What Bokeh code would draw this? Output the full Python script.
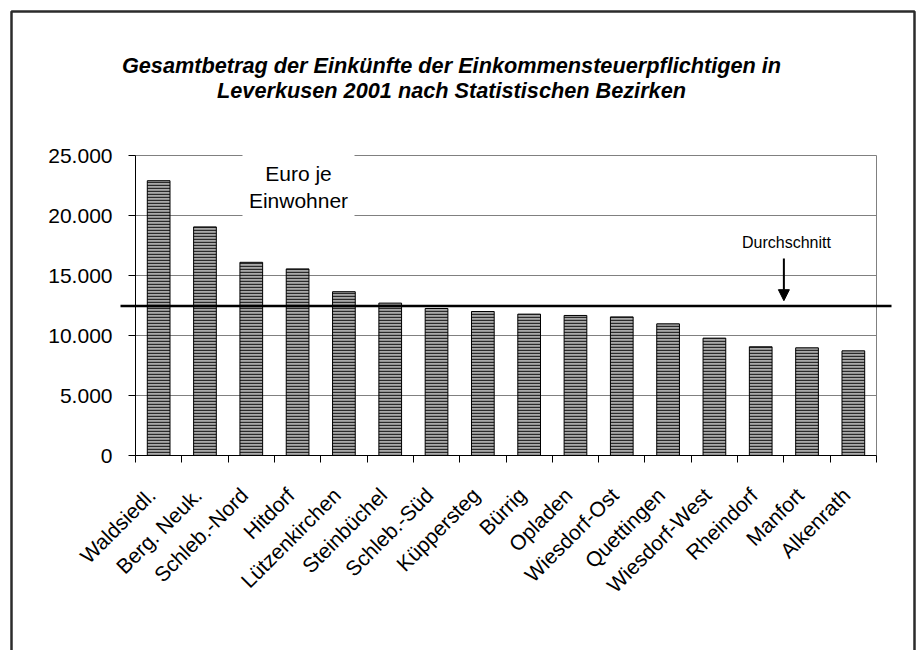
from bokeh.plotting import figure
from bokeh.models import Range1d, FixedTicker, Label, Arrow, NormalHead, ColumnDataSource
from bokeh.embed import file_html
from bokeh.resources import INLINE
import math

# ---- data ----
districts = ["Waldsiedl.", "Berg. Neuk.", "Schleb.-Nord", "Hitdorf", "Lützenkirchen",
             "Steinbüchel", "Schleb.-Süd", "Küppersteg", "Bürrig", "Opladen",
             "Wiesdorf-Ost", "Quettingen", "Wiesdorf-West", "Rheindorf", "Manfort",
             "Alkenrath"]
income = [22900, 19050, 16100, 15550, 13650, 12700, 12250, 12000, 11780, 11670,
          11550, 10970, 9780, 9060, 8970, 8720]
average = 12450
y_ticks = [0, 5000, 10000, 15000, 20000, 25000]
y_tick_labels = ["0", "5.000", "10.000", "15.000", "20.000", "25.000"]
title_lines = ["Gesamtbetrag der Einkünfte der Einkommensteuerpflichtigen in",
               "Leverkusen 2001 nach Statistischen Bezirken"]
unit_lines = ["Euro je", "Einwohner"]
avg_label = "Durchschnitt"

FONT = "Liberation Sans"
n = len(districts)
xpos = [i + 0.5 for i in range(n)]
label_pos = [i + 0.35 for i in range(n)]   # anchor of the rotated category labels

# canvas geometry: whole canvas is the frame, axes drawn at fixed locations
W, H = 920, 650
AX_X, AX_Y = 135.0, 455.0          # pixel position of data origin
PX_X = 741.0 / n                   # pixels per category
PX_Y = 300.0 / 25000               # pixels per unit
def X(px): return (px - AX_X) / PX_X
def Y(py): return (AX_Y - py) / PX_Y

p = figure(width=W, height=H, output_backend="svg", toolbar_location=None, title=None,
           x_range=Range1d(X(0), X(W)), y_range=Range1d(Y(H), Y(0)),
           min_border=0, min_border_left=0, min_border_right=0,
           min_border_top=0, min_border_bottom=0)
p.outline_line_color = None
p.background_fill_color = "white"
p.border_fill_color = "white"
p.xgrid.visible = False
p.ygrid.visible = False

# outer chart border (left, top, right)
p.line(x=[X(11), X(11), X(914), X(914)], y=[Y(700), Y(11), Y(11), Y(700)],
       line_color="#2b2b2b", line_width=2.5)

# gridlines and right edge of plot area
p.segment(x0=[0] * len(y_ticks), x1=[n] * len(y_ticks), y0=y_ticks, y1=y_ticks,
          line_color="#808080", line_width=1)
p.segment(x0=[n], x1=[n], y0=[0], y1=[y_ticks[-1]], line_color="#808080", line_width=1)

# bars
src = ColumnDataSource(dict(x=xpos, top=income))
p.vbar(x="x", top="top", width=0.49, bottom=0, source=src,
       fill_color="#a9a9a9", line_color="black", line_width=1,
       hatch_pattern="-", hatch_color="#2a2a2a", hatch_scale=3, hatch_weight=1.4)

# unit label with white box
p.quad(left=[X(242)], right=[X(354)], bottom=[Y(218)], top=[Y(150)],
       fill_color="white", line_color=None)
for txt, py in zip(unit_lines, [173, 200]):
    p.add_layout(Label(x=X(298), y=Y(py), text=txt, text_align="center",
                       text_baseline="middle", text_font=FONT, text_font_size="21px",
                       text_color="black"))

# average line
p.segment(x0=[X(120)], x1=[X(891)], y0=[average], y1=[average],
          line_color="black", line_width=2.5)
# Durchschnitt arrow + label
p.add_layout(Arrow(x_start=14, y_start=Y(258), x_end=14, y_end=average + 450,
                   end=NormalHead(size=11, fill_color="black", line_color="black"),
                   line_color="black", line_width=2))
p.add_layout(Label(x=X(786), y=Y(241.5), text=avg_label, text_align="center",
                   text_baseline="middle", text_font=FONT, text_font_size="16px",
                   text_color="black"))

# title
for txt, py in zip(title_lines, [65, 90]):
    p.add_layout(Label(x=X(451), y=Y(py), text=txt, text_align="center",
                       text_baseline="middle", text_font=FONT, text_font_size="21.7px",
                       text_font_style="bold italic", text_color="black"))

# y axis
ya = p.yaxis[0]
ya.fixed_location = 0
ya.bounds = (0, y_ticks[-1])
ya.ticker = FixedTicker(ticks=y_ticks)
ya.major_label_overrides = {t: l for t, l in zip(y_ticks, y_tick_labels)}
ya.major_label_text_font = FONT
ya.major_label_text_font_size = "21px"
ya.major_label_text_color = "black"
ya.major_tick_out = 7
ya.major_tick_in = 0
ya.major_tick_line_color = "black"
ya.axis_line_color = "black"
ya.minor_tick_line_color = None
ya.major_label_standoff = 16

# x axis
xa = p.xaxis[0]
xa.fixed_location = 0
xa.bounds = (0, n)
xa.ticker = FixedTicker(ticks=label_pos, minor_ticks=list(range(n + 1)))
xa.major_label_overrides = {x: d for x, d in zip(label_pos, districts)}
xa.major_label_orientation = math.pi / 4
xa.major_label_text_font = FONT
xa.major_label_text_font_size = "21px"
xa.major_label_text_color = "black"
xa.major_tick_line_color = None
xa.minor_tick_line_color = "black"
xa.minor_tick_out = 7
xa.minor_tick_in = 0
xa.axis_line_color = "black"
xa.major_label_standoff = 29

open("out.html", "w").write(file_html(p, INLINE))
